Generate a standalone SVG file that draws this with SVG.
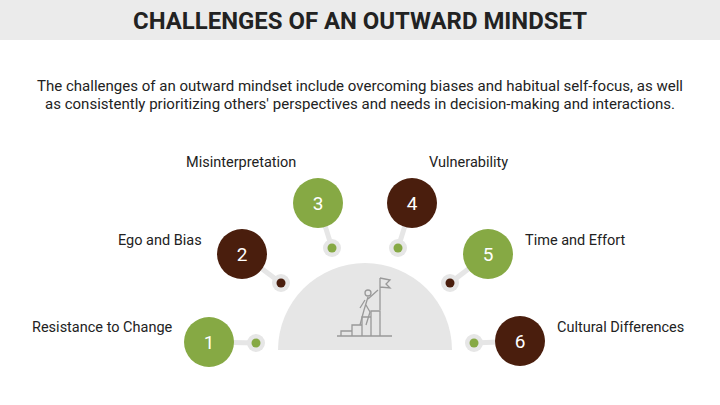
<svg xmlns="http://www.w3.org/2000/svg" width="720" height="405" viewBox="0 0 720 405">
<style>
.t{font-family:Roboto,"Liberation Sans",sans-serif;font-size:14.5px;fill:#222}
.p{font-family:Roboto,"Liberation Sans",sans-serif;font-size:14px;fill:#222}
.n{font-family:Roboto,"Liberation Sans",sans-serif;font-size:19px;fill:#fff;text-anchor:middle}
.g{fill:#86a944}.b{fill:#4a1e0d}
.lk{stroke:#e6e6e6;stroke-width:5}
.ring{fill:#e6e6e6}
.ic{fill:none;stroke:#999;stroke-width:1.3}
</style>
<rect width="720" height="405" fill="#fff"/>
<rect width="720" height="40" fill="#ebebeb"/>
<text x="133" y="29" textLength="454" lengthAdjust="spacingAndGlyphs" font-family="Roboto,'Liberation Sans',sans-serif" font-weight="bold" font-size="24" fill="#222">CHALLENGES OF AN OUTWARD MINDSET</text>
<text class="p" x="37" y="91" textLength="646" lengthAdjust="spacingAndGlyphs">The challenges of an outward mindset include overcoming biases and habitual self-focus, as well</text>
<text class="p" x="45" y="109" textLength="630" lengthAdjust="spacingAndGlyphs">as consistently prioritizing others' perspectives and needs in decision-making and interactions.</text>
<g id="center">
<path d="M278 350 A87 87 0 0 1 452 350 Z" fill="#e6e6e6"/>
<g class="ic">
<path d="M337 336 H392 M341 336 V331 H352 V336 M352 331 V325 H362 V336 M362 325 V317 H371 V336 M371 317 V311 H380 V336"/>
<path d="M380 310 V278 M380 278 L390 280 L386 284 L390 288 L380 287"/>
<circle cx="368" cy="293" r="3"/>
<path d="M368 297 L364 310 L360 325 M366 305 L370 312 L366 325 M368 299 L378 290 M365 300 L360 308"/>
</g>
</g>
<g id="connectors">
<line class="lk" x1="209" y1="342" x2="256" y2="343"/>
<line class="lk" x1="242" y1="254" x2="281" y2="283"/>
<line class="lk" x1="318" y1="203" x2="332" y2="248"/>
<line class="lk" x1="412" y1="203" x2="398" y2="248"/>
<line class="lk" x1="488" y1="254" x2="450" y2="283"/>
<line class="lk" x1="520" y1="341" x2="474" y2="343"/>
</g>
<g id="n1"><circle class="ring" cx="256" cy="343" r="9"/><circle class="g" cx="256" cy="343" r="4.5"/><circle class="g" cx="209" cy="342" r="25"/><text class="n" x="209" y="349">1</text><text class="t" x="32" y="332">Resistance to Change</text></g>
<g id="n2"><circle class="ring" cx="281" cy="283" r="9"/><circle class="b" cx="281" cy="283" r="4.5"/><circle class="b" cx="242" cy="254" r="25"/><text class="n" x="242" y="261">2</text><text class="t" x="118" y="245">Ego and Bias</text></g>
<g id="n3"><circle class="ring" cx="332" cy="248" r="9"/><circle class="g" cx="332" cy="248" r="4.5"/><circle class="g" cx="318" cy="203" r="25"/><text class="n" x="318" y="210">3</text><text class="t" x="186" y="167">Misinterpretation</text></g>
<g id="n4"><circle class="ring" cx="398" cy="248" r="9"/><circle class="g" cx="398" cy="248" r="4.5"/><circle class="b" cx="412" cy="203" r="25"/><text class="n" x="412" y="210">4</text><text class="t" x="429" y="167">Vulnerability</text></g>
<g id="n5"><circle class="ring" cx="450" cy="283" r="9"/><circle class="b" cx="450" cy="283" r="4.5"/><circle class="g" cx="488" cy="254" r="25"/><text class="n" x="488" y="261">5</text><text class="t" x="525" y="245">Time and Effort</text></g>
<g id="n6"><circle class="ring" cx="474" cy="343" r="9"/><circle class="g" cx="474" cy="343" r="4.5"/><circle class="b" cx="520" cy="341" r="25"/><text class="n" x="520" y="348">6</text><text class="t" x="557" y="332">Cultural Differences</text></g>
</svg>
